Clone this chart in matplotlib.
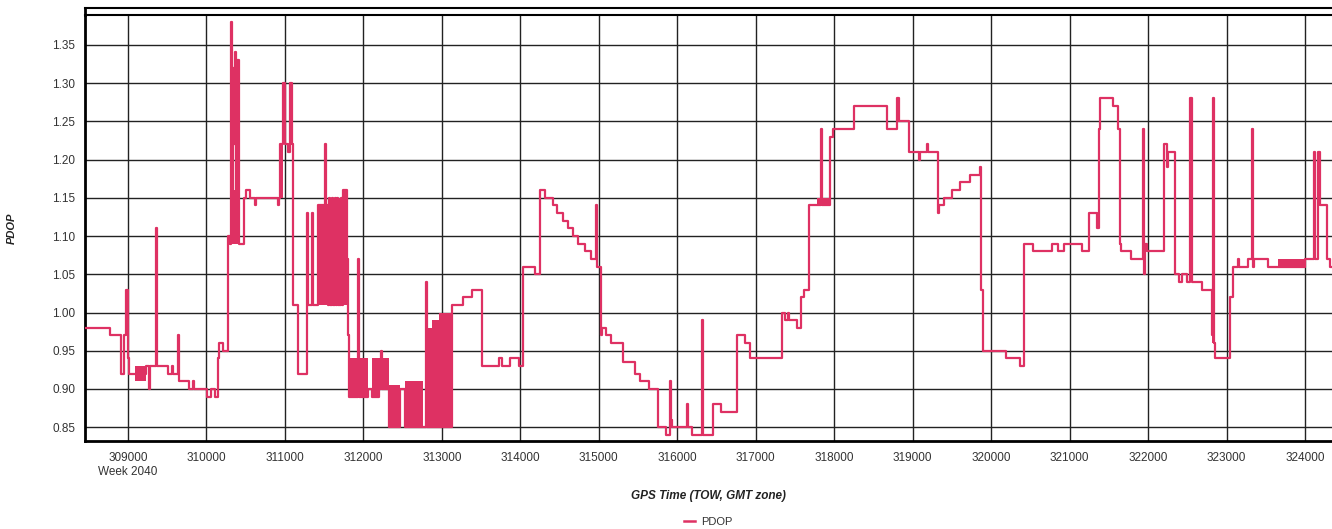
import matplotlib.pyplot as plt
from matplotlib.lines import Line2D
from matplotlib.ticker import FixedLocator, FormatStrFormatter

plt.rcParams['font.family'] = ['Liberation Sans', 'DejaVu Sans']

# PDOP step series (GPS time of week, seconds)
tow = [308452, 308771, 308911, 308949, 308975, 309000, 309013, 309229, 309268, 309280,
       309357, 309370, 309510, 309561, 309573, 309637, 309650, 309777, 309828, 309841,
       310007, 310058, 310109, 310147, 310160, 310211, 310274, 310300, 310313, 310330,
       310338, 310351, 310364, 310382, 310389, 310410, 310478, 310504, 310555, 310618,
       310631, 310912, 310924, 310937, 310975, 311001, 311039, 311065, 311090, 311103,
       311166, 311281, 311294, 311345, 311358, 311421, 311511, 311523, 311549, 311562,
       311574, 311600, 311613, 311638, 311651, 311663, 311676, 311714, 311727, 311740,
       311791, 311804, 311816, 311931, 311944, 312059, 312110, 312199, 312224, 312237,
       312326, 312466, 312530, 312798, 312810, 313129, 313269, 313384, 313511, 313728,
       313766, 313868, 313983, 314034, 314187, 314251, 314314, 314416, 314467, 314544,
       314607, 314671, 314735, 314824, 314900, 314964, 314977, 315028, 315041, 315092,
       315155, 315308, 315461, 315525, 315640, 315754, 315856, 315907, 315920, 315933,
       316124, 316137, 316188, 316315, 316328, 316455, 316557, 316761, 316863, 316927,
       317335, 317373, 317411, 317424, 317526, 317577, 317615, 317679, 317832, 317844,
       317946, 317985, 318252, 318673, 318800, 318826, 318953, 319080, 319093, 319182,
       319195, 319323, 319335, 319399, 319501, 319603, 319730, 319858, 319871, 319896,
       320189, 320368, 320419, 320533, 320775, 320852, 320928, 321158, 321247, 321349,
       321374, 321387, 321553, 321617, 321642, 321655, 321782, 321935, 321948, 321961,
       321986, 322203, 322241, 322254, 322343, 322394, 322432, 322496, 322534, 322560,
       322687, 322815, 322827, 322840, 322853, 323044, 323082, 323146, 323158, 323273,
       323324, 323337, 323350, 323528, 324000, 324114, 324127, 324165, 324190, 324280,
       324318, 324344]
pdop = [0.98, 0.97, 0.92, 0.97, 1.03, 0.94, 0.92, 0.93, 0.90, 0.93,
        1.11, 0.93, 0.92, 0.93, 0.92, 0.97, 0.91, 0.90, 0.91, 0.90,
        0.89, 0.90, 0.89, 0.94, 0.96, 0.95, 1.10, 1.09, 1.38, 1.12,
        1.32, 1.22, 1.34, 1.13, 1.33, 1.09, 1.15, 1.16, 1.15, 1.14,
        1.15, 1.14, 1.15, 1.22, 1.30, 1.22, 1.21, 1.30, 1.22, 1.01,
        0.92, 1.13, 1.01, 1.13, 1.01, 1.14, 1.22, 1.14, 1.01, 1.15,
        1.01, 1.15, 1.01, 1.15, 1.01, 1.15, 1.01, 1.15, 1.01, 1.16,
        1.07, 0.97, 0.89, 1.07, 0.89, 0.90, 0.89, 0.90, 0.95, 0.90,
        0.85, 0.90, 0.85, 1.04, 0.85, 1.01, 1.02, 1.03, 0.93, 0.94,
        0.93, 0.94, 0.93, 1.06, 1.05, 1.16, 1.15, 1.14, 1.13, 1.12,
        1.11, 1.10, 1.09, 1.08, 1.07, 1.14, 1.06, 0.97, 0.98, 0.97,
        0.96, 0.935, 0.92, 0.91, 0.90, 0.85, 0.84, 0.91, 0.86, 0.85,
        0.88, 0.85, 0.84, 0.99, 0.84, 0.88, 0.87, 0.97, 0.96, 0.94,
        1.00, 0.99, 1.00, 0.99, 0.98, 1.02, 1.03, 1.14, 1.24, 1.14,
        1.23, 1.24, 1.27, 1.24, 1.28, 1.25, 1.21, 1.20, 1.21, 1.22,
        1.21, 1.13, 1.14, 1.15, 1.16, 1.17, 1.18, 1.19, 1.03, 0.95,
        0.94, 0.93, 1.09, 1.08, 1.09, 1.08, 1.09, 1.08, 1.13, 1.11,
        1.24, 1.28, 1.27, 1.24, 1.09, 1.08, 1.07, 1.24, 1.05, 1.09,
        1.08, 1.22, 1.19, 1.21, 1.05, 1.04, 1.05, 1.04, 1.28, 1.04,
        1.03, 0.97, 1.28, 0.96, 0.94, 1.02, 1.06, 1.07, 1.06, 1.07,
        1.24, 1.06, 1.07, 1.06, 1.07, 1.21, 1.07, 1.21, 1.14, 1.07,
        1.06, 1.06]

# fast-toggling stretches, drawn as solid blocks
band_start = [309089, 310313, 310937, 311421, 311562, 311613, 311663, 311740, 311816,
              312110, 312199, 312326, 312530, 312785, 312874, 312963, 317781, 322815, 323656]
band_end = [309229, 310415, 310975, 311549, 311600, 311638, 311714, 311791, 312059,
            312199, 312326, 312466, 312759, 312874, 312963, 313129, 317946, 322853, 324000]
band_low = [0.91, 1.09, 1.15, 1.01, 1.01, 1.01, 1.01, 1.01, 0.89,
            0.89, 0.90, 0.85, 0.85, 0.85, 0.85, 0.85, 1.14, 0.96, 1.06]
band_high = [0.93, 1.16, 1.22, 1.14, 1.15, 1.15, 1.15, 1.16, 0.94,
             0.94, 0.94, 0.905, 0.91, 0.98, 0.99, 1.00, 1.15, 1.03, 1.07]

color = "#de3163"

fig = plt.figure(figsize=(13.32, 5.29), dpi=100)
ax = fig.add_axes([85 / 1332, 88 / 529, 1 - 85 / 1332, (441 - 15) / 529])

ax.step(tow, pdop, where="post", color=color, lw=1.6, label="PDOP", zorder=3)
for s, e, lo, hi in zip(band_start, band_end, band_low, band_high):
    ax.fill_between([s, e], lo, hi, color=color, lw=0, zorder=3)

ax.set_xlim(308452, 324344)
ax.set_ylim(0.832, 1.389)
ax.xaxis.set_major_locator(FixedLocator(range(309000, 324001, 1000)))
ax.yaxis.set_major_locator(FixedLocator([0.85 + 0.05 * i for i in range(11)]))
ax.yaxis.set_major_formatter(FormatStrFormatter("%.2f"))
ax.tick_params(axis="both", length=0, labelsize=8.5, colors="#333333")
ax.tick_params(axis="x", pad=8)
ax.tick_params(axis="y", pad=7)

ax.grid(True, color="#222222", lw=1.0, zorder=1)
ax.set_axisbelow(True)

for side in ["left", "bottom"]:
    ax.spines[side].set_linewidth(2)
    ax.spines[side].set_color("black")
ax.spines["top"].set_linewidth(1.5)
ax.spines["right"].set_visible(False)

# outer frame line above the plot
fig.add_artist(Line2D([85 / 1332, 1], [1 - 8 / 529, 1 - 8 / 529], color="black", lw=1.5))
fig.add_artist(Line2D([85 / 1332, 85 / 1332], [1 - 8 / 529, 1 - 15 / 529], color="black", lw=2))

ax.text(309000, -0.073, "Week 2040", transform=ax.get_xaxis_transform(),
        ha="center", va="center", fontsize=8.5, color="#333333")

ax.set_xlabel("GPS Time (TOW, GMT zone)", fontsize=8.5, fontweight="bold",
              fontstyle="italic", color="#222222")
ax.xaxis.set_label_coords(0.5, -0.115)
ax.set_ylabel("PDOP", fontsize=8, fontweight="bold", fontstyle="italic", color="#222222")
ax.yaxis.set_label_coords(-0.055, 0.5)

fig.legend(handles=[Line2D([], [], color=color, lw=1.8)], labels=["PDOP"],
           loc="center", bbox_to_anchor=(708 / 1332, 7 / 529), frameon=False,
           fontsize=8, handlelength=1.0, handletextpad=0.5, labelcolor="#333333")

fig.savefig("out.png", dpi=100)
